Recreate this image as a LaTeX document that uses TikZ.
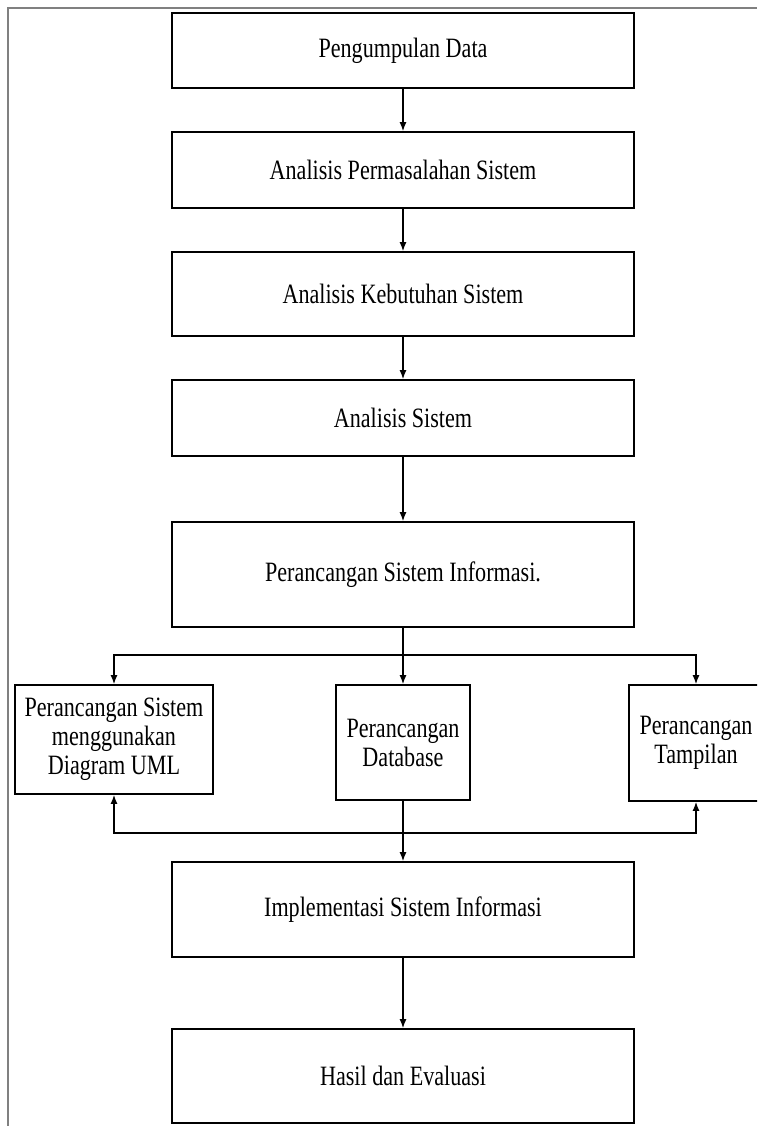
\documentclass[tikz,border=0pt]{standalone}
\usepackage{fontspec}
\setmainfont{Liberation Serif}[FakeStretch=0.79]
\usetikzlibrary{arrows.meta}

\begin{document}
\begin{tikzpicture}[x=1pt, y=-1pt,
  box/.style={draw, line width=1.8pt, inner sep=0pt, align=center, font=\fontsize{28}{29}\selectfont},
  arr/.style={line width=1.3pt, -{Latex[length=9pt,width=7pt]}}]
\clip (0,0) rectangle (757,1126);
% Frame
\draw[gray, line width=1.5pt] (8,1126) -- (8,8) -- (757,8);

% Main column
\node[box, minimum width=462pt, minimum height=75pt] (pengumpulan) at (403,50.5) {Pengumpulan Data};
\node[box, minimum width=462pt, minimum height=76pt] (permasalahan) at (403,170) {Analisis Permasalahan Sistem};
\node[box, minimum width=462pt, minimum height=84pt] (kebutuhan) at (403,294) {Analisis Kebutuhan Sistem};
\node[box, minimum width=462pt, minimum height=76pt] (analisis) at (403,418) {Analisis Sistem};
\node[box, minimum width=462pt, minimum height=105pt] (perancangan) at (403,574.5) {Perancangan Sistem Informasi.};

% Three design boxes
\node[box, minimum width=198pt, minimum height=109pt] (uml) at (114,739.5) {Perancangan Sistem\\menggunakan\\Diagram UML};
\node[box, minimum width=134pt, minimum height=115pt] (database) at (403,742.5) {Perancangan\\Database};
\node[box, minimum width=134pt, minimum height=116pt] (tampilan) at (696,743) {Perancangan\\Tampilan};

% Bottom
\node[box, minimum width=462pt, minimum height=95pt] (implementasi) at (403,909.5) {Implementasi Sistem Informasi};
\node[box, minimum width=462pt, minimum height=94pt] (hasil) at (403,1076) {Hasil dan Evaluasi};

% Arrows
\draw[arr] (pengumpulan) -- (permasalahan);
\draw[arr] (permasalahan) -- (kebutuhan);
\draw[arr] (kebutuhan) -- (analisis);
\draw[arr] (analisis) -- (perancangan);
\draw[arr] (perancangan) -- (database);

\coordinate (pecah) at (403,655);
\draw[arr] (pecah) -| (uml.north);
\draw[arr] (pecah) -| (tampilan.north);

\coordinate (gabung) at (403,833);
\draw[arr] (database) -- (implementasi);
\draw[arr] (gabung) -| (uml.south);
\draw[arr] (gabung) -| (tampilan.south);

\draw[arr] (implementasi) -- (hasil);
\end{tikzpicture}
\end{document}
